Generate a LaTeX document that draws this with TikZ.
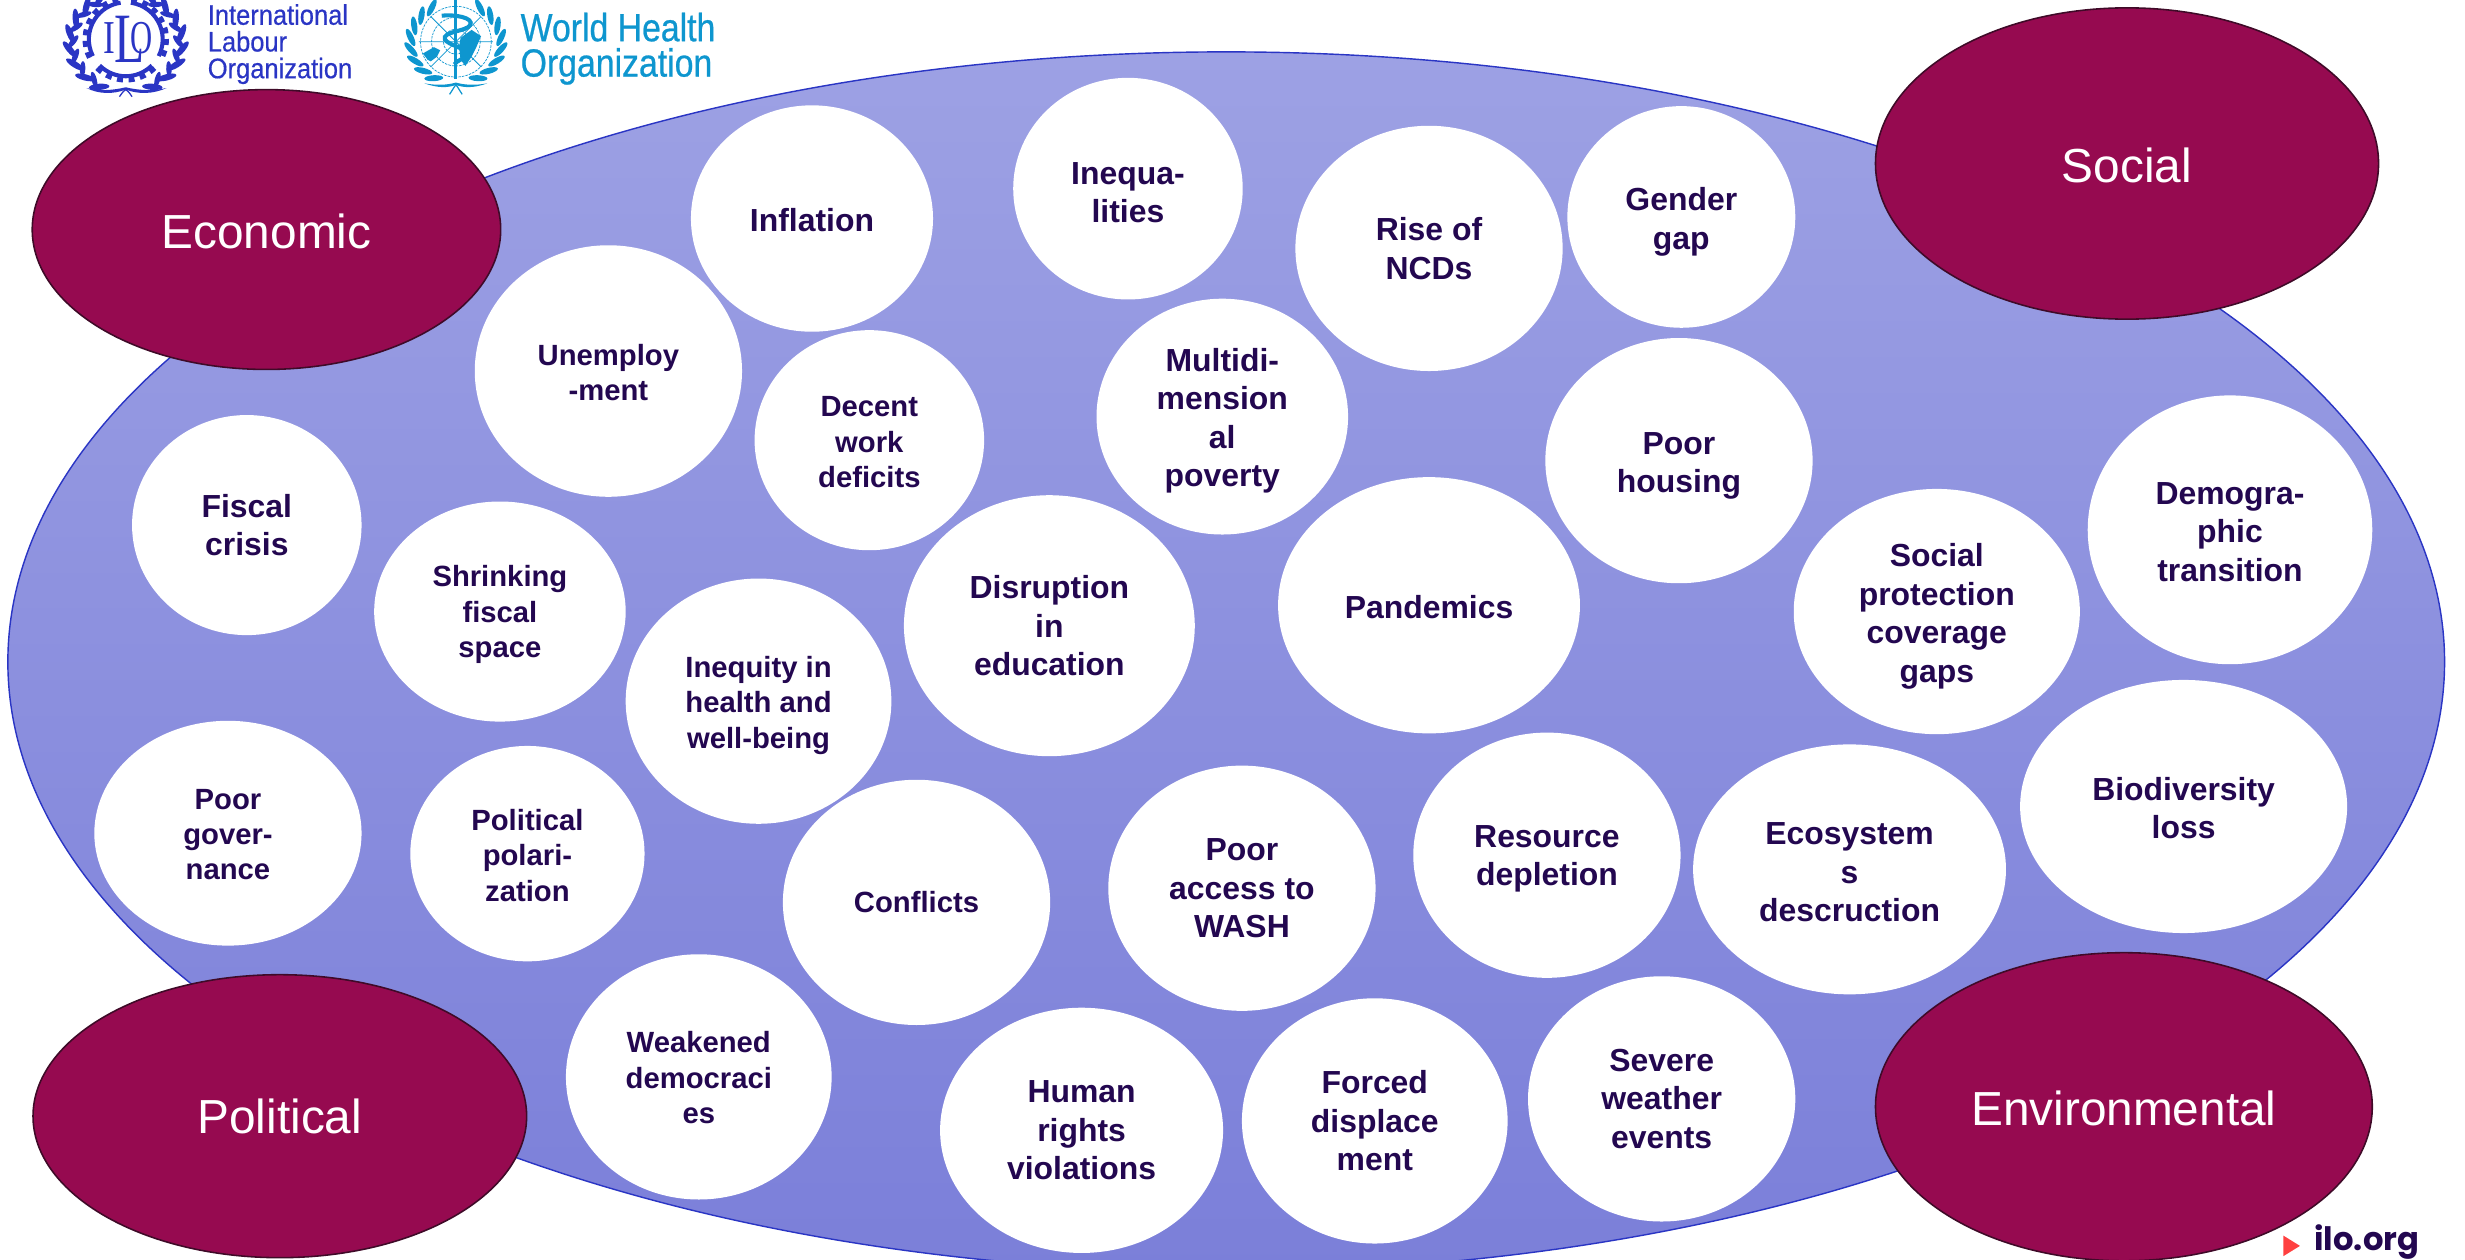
\documentclass[tikz,border=0pt]{standalone}
\usepackage{fontspec}
\setmainfont{Liberation Sans}
\newfontfamily\ilofont{Poppins}[BoldFont={Poppins Bold}]
\newfontfamily\narrowfont{Liberation Sans}[FakeStretch=0.86,FakeBold=0.6]
\newfontfamily\ilonarrow{Liberation Sans}[FakeStretch=0.9,FakeBold=0.5]
\newfontfamily\markI{Liberation Serif}[FakeStretch=0.75]
\newfontfamily\markL{Liberation Serif}[FakeStretch=0.7]
\newfontfamily\markO{Liberation Serif}[FakeStretch=0.65]
\usetikzlibrary{shapes.geometric}
\definecolor{maroon}{HTML}{960A50}
\definecolor{maroonline}{HTML}{3F0A28}
\definecolor{inkpurple}{HTML}{230750}
\definecolor{iloblue}{HTML}{2A35C4}
\definecolor{whoblue}{HTML}{0E96CF}
\definecolor{TopBlue}{HTML}{9DA1E4}
\definecolor{BottomBlue}{HTML}{7B7FD9}
\tikzset{
  x=1pt,y=-1pt,
  bubble/.style={ellipse,fill=white,inner sep=0pt,align=center,text=inkpurple},
  small/.style={font=\fontsize{18.6}{22.5}\selectfont\bfseries},
  big/.style={font=\fontsize{20.3}{24.5}\selectfont\bfseries},
  pillar/.style={ellipse,draw=maroonline,line width=1pt,fill=maroon,text=white,inner sep=0pt,align=center,font=\fontsize{30.4}{36}\selectfont},
  backdrop/.style={ellipse,draw=iloblue,line width=0.9pt,top color=TopBlue,bottom color=BottomBlue,inner sep=0pt},
  leaf/.style={ellipse,fill=#1,inner sep=0pt,minimum width=13pt,minimum height=4pt}
}
\newcommand{\bub}[7]{\node[bubble,#6,minimum width=#4*2pt,minimum height=#5*2pt] (#1) at (#2,#3) {#7};}
% pushes a text down by #1 inside its ellipse: a taller first line
\newcommand{\nudge}[1]{\rule{0pt}{\dimexpr 0.73em+#1pt+#1pt\relax}}
\begin{document}
\begin{tikzpicture}
\path[use as bounding box] (0,0) rectangle (1568,801);
\clip (0,0) rectangle (1568,801);

\node[backdrop,minimum width=1550pt,minimum height=776pt] (field) at (780,421) {};

\node[pillar,minimum width=298pt,minimum height=178pt] (economic) at (169.5,146) {\nudge{1}Economic};
\node[pillar,minimum width=320pt,minimum height=198pt] (social) at (1353,104) {\nudge{1}Social};
\node[pillar,minimum width=314pt,minimum height=180pt] (political) at (178,710) {Political};
\node[pillar,minimum width=316pt,minimum height=196pt] (environmental) at (1351,704) {\nudge{1}Environmental};

\bub{inflation}{516.5}{139}{77}{72}{big}{\nudge{1}Inflation}
\bub{inequalities}{717.5}{120}{73}{70.5}{big}{\nudge{2}Inequa-\\lities}
\bub{ncds}{909}{158}{85}{78}{big}{Rise of\\NCDs}
\bub{gender}{1069.5}{138}{72.5}{70.5}{big}{\nudge{3}Gender\\gap}
\bub{unemployment}{387}{236}{85}{80}{small}{\nudge{1}Unemploy\\-ment}
\bub{decent}{553}{280}{73}{70}{small}{\nudge{1}Decent\\work\\deficits}
\bub{poverty}{777.5}{265}{80}{75}{big}{\nudge{2.5}Multidi-\\mension\\al\\poverty}
\bub{housing}{1068}{293}{85}{78}{big}{\nudge{3}Poor\\housing}
\bub{fiscal}{157}{334}{73}{70}{big}{Fiscal\\crisis}
\bub{shrinking}{318}{389}{80}{70}{small}{\nudge{2}Shrinking\\fiscal\\space}
\bub{disruption}{667.5}{398}{92.5}{83}{big}{Disruption\\in\\education}
\bub{pandemics}{909}{385}{96}{81.5}{big}{\nudge{1}Pandemics}
\bub{protection}{1232}{389}{91}{78}{big}{\nudge{3}Social\\protection\\coverage\\gaps}
\bub{demographic}{1418.5}{337}{90.5}{85.5}{big}{\nudge{1}Demogra-\\phic\\transition}
\bub{inequity}{482.5}{446}{84.5}{78}{small}{\nudge{2.5}Inequity in\\health and\\well-being}
\bub{governance}{145}{530}{85}{71.5}{small}{\nudge{0.5}Poor\\gover-\\nance}
\bub{polarization}{335.5}{543}{74.5}{68.5}{small}{\nudge{1}Political\\polari-\\zation}
\bub{conflicts}{583}{574}{85}{78}{small}{Conflicts}
\bub{wash}{790}{565}{85}{78}{big}{Poor\\access to\\WASH}
\bub{resource}{984}{544}{85}{78}{big}{\nudge{2}Resource\\depletion}
\bub{ecosystem}{1176.5}{553}{99.5}{79.5}{big}{\nudge{1.5}Ecosystem\\s\\descruction}
\bub{biodiversity}{1389}{513}{104}{80.5}{big}{\nudge{1}Biodiversity\\loss}
\bub{democracies}{444.5}{685}{84.5}{78}{small}{\nudge{0.5}Weakened\\democraci\\es}
\bub{rights}{688}{719}{90}{78}{big}{Human\\rights\\violations}
\bub{displacement}{874.5}{713}{84.5}{78}{big}{Forced\\displace\\ment}
\bub{weather}{1057}{699}{85}{78}{big}{Severe\\weather\\events}

% ILO emblem: wreath
\foreach \a in {-64,-46,...,62}{
  \node[leaf=iloblue,rotate=58-\a] at ({80+36*cos(\a)},{27+32*sin(\a)}) {};
  \node[leaf=iloblue,rotate=122+\a] at ({80-36*cos(\a)},{27+32*sin(\a)}) {};
}
\foreach \a in {-55,-37,...,70}{
  \node[leaf=iloblue,rotate=128-\a,minimum width=10pt,minimum height=3.4pt] at ({80+33.5*cos(\a)},{27+29.5*sin(\a)}) {};
  \node[leaf=iloblue,rotate=52+\a,minimum width=10pt,minimum height=3.4pt] at ({80-33.5*cos(\a)},{27+29.5*sin(\a)}) {};
}
% ILO emblem: gear in three arcs
\foreach \s/\e in {45/135,153/262,278/387}{
  \draw[iloblue,line width=2.6pt] (80,25) ++(\s:23.5) arc[start angle=\s,end angle=\e,radius=23.5];
  \draw[iloblue,line width=3pt,dash pattern=on 3.8pt off 3.6pt] (80,25) ++(\s:26) arc[start angle=\s,end angle=\e,radius=26];
}
\node[text=iloblue,anchor=base west,inner sep=0pt] (iloMark) at (65.8,34)
  {\fontsize{30}{30}\selectfont\markI I\kern-0.5pt\raisebox{-6pt}{\fontsize{45}{45}\selectfont\markL L}\kern-9.5pt\fontsize{30}{30}\selectfont\markO O};
\fill[iloblue] (55,56) .. controls (63,60) and (72,60) .. (80,57) .. controls (88,60) and (97,60) .. (106,56)
  .. controls (97,58) and (88,57.5) .. (80,55.5) .. controls (72,57.5) and (63,58) .. cycle;
\draw[iloblue,line width=0.8pt] (76,61.5) .. controls (78,58.5) and (79,57.5) .. (80,57) .. controls (81,57.5) and (82,58.5) .. (84,61.5);
\node[text=iloblue,anchor=north west,inner sep=0pt,align=left,font=\fontsize{18}{17}\selectfont\ilonarrow] (iloName) at (132,2.5) {International\\Labour\\Organization};

% WHO emblem: wreath
\foreach \a in {-58,-41,...,62}{
  \node[leaf=whoblue,rotate=58-\a,minimum width=12pt,minimum height=3.8pt] at ({290+29*cos(\a)},{27+26*sin(\a)}) {};
  \node[leaf=whoblue,rotate=122+\a,minimum width=12pt,minimum height=3.8pt] at ({290-29*cos(\a)},{27+26*sin(\a)}) {};
}
% WHO emblem: globe
\draw[whoblue,line width=0.45pt,dash pattern=on 1.6pt off 0.7pt] (290,26.5) circle[radius=22.5] (290,26.5) circle[radius=15.5] (290,26.5) circle[radius=8];
\draw[whoblue,line width=0.5pt] (266.5,26.5) -- (313.5,26.5) (274,10.5) -- (306,42.5) (306,10.5) -- (274,42.5);
\fill[whoblue] (269,34) -- (276,30) -- (280,32) -- (278,36) -- (274,39) -- (272,38) -- cycle;
\fill[whoblue] (293,24) -- (300,19) -- (306,23) -- (303,30) -- (300,36) -- (296,42) -- (293,38) -- (292,30) -- cycle;
\draw[whoblue,line width=2pt] (290,-2) -- (290,50);
\draw[whoblue,line width=2.6pt] (281,10) .. controls (288,9) and (302,11) .. (299,16) .. controls (297,20) and (281,20) .. (283,25)
  .. controls (285,29) and (297,30) .. (296,35) .. controls (295,38) and (291,38) .. (289,41);
\fill[whoblue] (270,53) .. controls (278,56) and (285,56) .. (290,54) .. controls (295,56) and (302,56) .. (310,53)
  .. controls (302,54.5) and (295,54) .. (290,52.5) .. controls (285,54) and (278,54.5) .. cycle;
\draw[whoblue,line width=0.8pt] (286,60) .. controls (288,57) and (289,55) .. (290,54) .. controls (291,55) and (292,57) .. (294,60);
\node[text=whoblue,anchor=west,inner sep=0pt,align=left,font=\fontsize{25}{22.5}\selectfont\narrowfont] (whoName) at (331,31) {World Health\\Organization};

% footer
\coordinate (triA) at (1452.5,786);
\coordinate (triB) at (1463,792.5);
\coordinate (triC) at (1452.5,799);
\fill[fill=red!75!white] (triA) -- (triB) -- (triC) -- cycle;
\node[text=inkpurple,anchor=base west,inner sep=0pt,font=\fontsize{20.5}{21}\selectfont\ilofont\bfseries] (iloOrg) at (1472,795.5) {ilo.org};
\end{tikzpicture}
\end{document}
